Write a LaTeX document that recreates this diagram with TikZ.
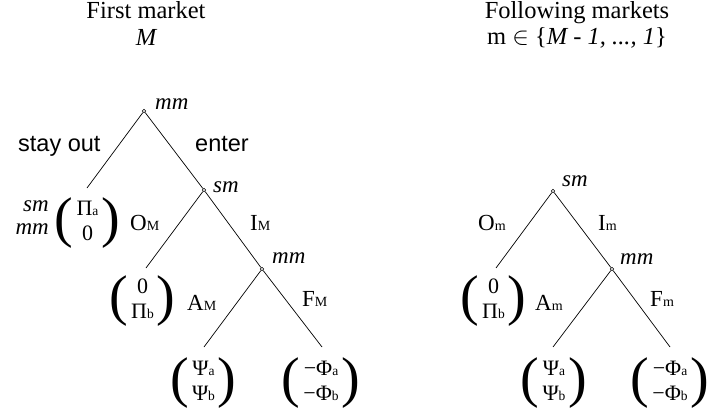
\documentclass[tikz,border=0pt]{standalone}
\usepackage{fontspec}
\setmainfont{Liberation Serif}
\newfontfamily\lsans{Liberation Sans}
\newcommand\sbx[1]{{\fontsize{14}{14}\selectfont #1}}
\newcommand\msb[1]{{\fontsize{13.5}{13.5}\selectfont #1}}
\newcommand\bigpar[1]{$\vcenter{\hbox{\fontsize{56}{56}\selectfont #1}}$}
\newcommand\pay[2]{\bigpar{(}\hspace{3pt}$\vcenter{\hbox{\fontsize{22}{25}\selectfont\begin{tabular}{@{}c@{}}#1\\#2\end{tabular}}}$\hspace{3pt}\bigpar{)}}
\begin{document}
\begin{tikzpicture}[x=1pt,y=-1pt,
  every node/.style={font=\fontsize{23}{26}\selectfont, inner sep=0pt},
  title/.style={font=\fontsize{24.5}{27}\selectfont, anchor=base},
  dot/.style={circle, draw, fill=white, line width=0.5pt, minimum size=3.6pt, inner sep=0pt},
  lbl/.style={font=\fontsize{23}{26}\selectfont\itshape, anchor=base west},
  elbl/.style={anchor=base west},
  sans/.style={font=\fontsize{23.5}{26}\selectfont\lsans, anchor=base west},
  edge/.style={line width=0.7pt}]
\useasboundingbox (0,0) rectangle (709,412);
% titles
\node[title] (t1) at (146,19) {First market};
\node[title, font=\fontsize{24.5}{27}\selectfont\itshape] (t1m) at (146,46) {M};
\node[title] (t2) at (577,19) {Following markets};
\node[title] (t2m) at (577,45) {m $\in$ \{\textit{M - 1, ..., 1}\}};
% left tree
\node[dot] (r1) at (144,111) {};
\coordinate (l1) at (87,188);
\node[dot] (s1) at (204,190) {};
\coordinate (l2) at (146,268);
\node[dot] (m1) at (262,269) {};
\coordinate (l3) at (204,347);
\coordinate (l4) at (322,347);
\draw[edge] (r1) -- (l1);
\draw[edge] (r1) -- (s1);
\draw[edge] (s1) -- (l2);
\draw[edge] (s1) -- (m1);
\draw[edge] (m1) -- (l3);
\draw[edge] (m1) -- (l4);
\node[lbl] (r1l) at (155,109) {mm};
\node[sans] (so) at (18,151) {stay out};
\node[sans] (en) at (195,151) {enter};
\node[lbl] (s1l) at (213,192) {sm};
\node[elbl] (om) at (130,230) {O\sbx{M}};
\node[elbl] (im) at (250,230) {I\sbx{M}};
\node[lbl] (m1l) at (272,263) {mm};
\node (p1) at (87.5,223) {\pay{Π\msb{a}}{0}};
\node[lbl, anchor=base east] (p1s) at (49,211) {sm};
\node[lbl, anchor=base east] (p1m) at (49,234) {mm};
\node (p2) at (142.5,301) {\pay{0}{Π\msb{b}}};
\node[elbl] (am) at (187,310) {A\sbx{M}};
\node[elbl] (fm) at (302,306) {F\sbx{M}};
\node (p3) at (203.5,383) {\pay{Ψ\msb{a}}{Ψ\msb{b}}};
\node (p4) at (321,383) {\pay{−Φ\msb{a}}{−Φ\msb{b}}};
% right tree
\node[dot] (s2) at (553,191) {};
\coordinate (l5) at (496,268);
\node[dot] (m2) at (612,269) {};
\coordinate (l6) at (553,347);
\coordinate (l7) at (670,347);
\draw[edge] (s2) -- (l5);
\draw[edge] (s2) -- (m2);
\draw[edge] (m2) -- (l6);
\draw[edge] (m2) -- (l7);
\node[lbl] (s2l) at (562,186) {sm};
\node[elbl] (om2) at (478,230) {O\sbx{m}};
\node[elbl] (im2) at (598,230) {I\sbx{m}};
\node[lbl] (m2l) at (620,264) {mm};
\node (p5) at (493.5,301) {\pay{0}{Π\msb{b}}};
\node[elbl] (am2) at (535,310) {A\sbx{m}};
\node[elbl] (fm2) at (650,306) {F\sbx{m}};
\node (p6) at (554,383) {\pay{Ψ\msb{a}}{Ψ\msb{b}}};
\node (p7) at (670,383) {\pay{−Φ\msb{a}}{−Φ\msb{b}}};
\end{tikzpicture}
\end{document}
